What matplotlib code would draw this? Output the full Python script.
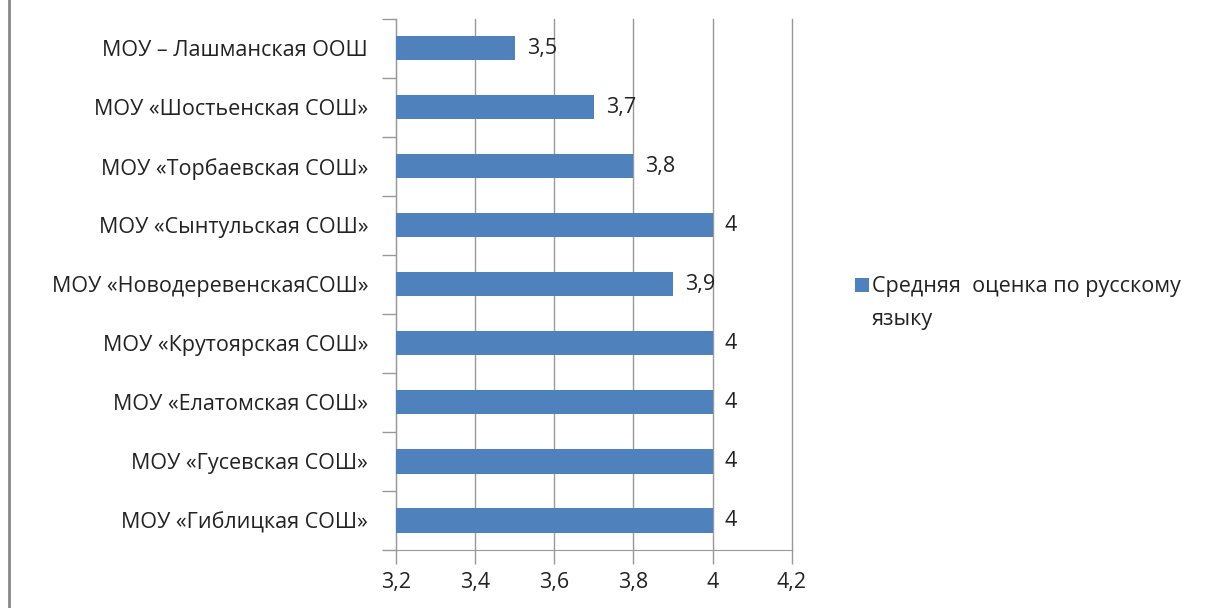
import matplotlib.pyplot as plt
from matplotlib.lines import Line2D
from matplotlib.ticker import FuncFormatter

# Школы и средние оценки (сверху вниз)
schools = ["МОУ – Лашманская ООШ", "МОУ «Шостьенская СОШ»", "МОУ «Торбаевская СОШ»",
           "МОУ «Сынтульская СОШ»", "МОУ «НоводеревенскаяСОШ»", "МОУ «Крутоярская СОШ»",
           "МОУ «Елатомская СОШ»", "МОУ «Гусевская СОШ»", "МОУ «Гиблицкая СОШ»"]
scores = [3.5, 3.7, 3.8, 4.0, 3.9, 4.0, 4.0, 4.0, 4.0]
xticks = [3.2, 3.4, 3.6, 3.8, 4.0, 4.2]
series_name = ["Средняя  оценка по русскому", "языку"]

plt.rcParams['font.family'] = ['Open Sans', 'DejaVu Sans']
fs = 15.5

fig = plt.figure(figsize=(12.22, 6.08), dpi=100)
ax = fig.add_axes([0.324, 0.0954, 0.324, 0.874])

pos = range(len(schools))
bars = ax.barh(pos, scores, height=0.41, color='#4f81bd', zorder=3,
               label=series_name[0])

def fmt(v):
    s = ('%.1f' % v).rstrip('0').rstrip('.')
    return s.replace('.', ',')

for p, v in zip(pos, scores):
    ax.text(v + 0.03, p, fmt(v), va='center', ha='left', fontsize=fs, color='#222222')

ax.set_xlim(3.2, 4.2)
ax.set_ylim(len(schools) - 0.5, -0.5)
ax.set_xticks(xticks)
ax.xaxis.set_major_formatter(FuncFormatter(lambda v, p: fmt(v)))
ax.set_yticks(pos)
ax.set_yticklabels(schools)
ax.set_yticks([p + 0.5 for p in range(-1, len(schools))], minor=True)
ax.tick_params(axis='y', which='major', length=0, pad=20, labelsize=fs, labelcolor='#222222')
ax.tick_params(axis='y', which='minor', length=10, color='#999999', width=1)
ax.tick_params(axis='x', length=10, color='#999999', width=1, pad=6,
               labelsize=fs, labelcolor='#222222')
ax.grid(axis='x', color='#999999', linewidth=1, zorder=0)
for g in ax.get_xgridlines():
    g.set_clip_on(False)
for s in ['top', 'right']:
    ax.spines[s].set_visible(False)
for s in ['left', 'bottom']:
    ax.spines[s].set_color('#999999')

# легенда: первая строка через legend, перенос второй строкой
fig.legend(loc='center left', bbox_to_anchor=(0.6995, 0.528), frameon=False,
           borderpad=0, borderaxespad=0, fontsize=fs, handlelength=0.65,
           handleheight=0.65, handletextpad=0.15, labelcolor='#222222')
fig.text(0.7135, 0.474, series_name[1], fontsize=fs, color='#222222',
         ha='left', va='center')

# серая рамка слева
fig.add_artist(Line2D([0.007, 0.007], [0, 1], color='#888888', linewidth=2,
                      transform=fig.transFigure))

plt.savefig('out.png', dpi=100)
